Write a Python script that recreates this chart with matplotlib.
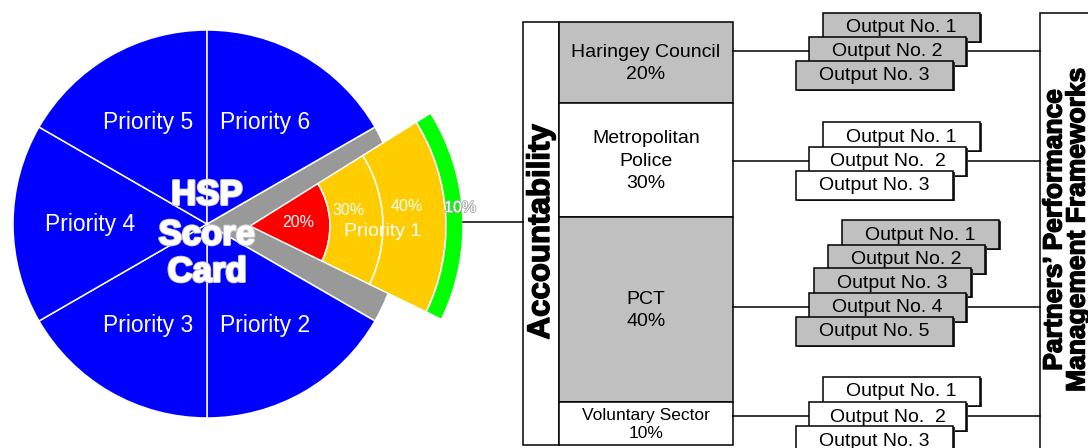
import numpy as np
import matplotlib.pyplot as plt
from matplotlib.patches import Wedge, Rectangle
import matplotlib.patheffects as pe

plt.rcParams['font.family'] = ['Liberation Sans', 'DejaVu Sans']

# data
priorities = ['Priority 1', 'Priority 2', 'Priority 3', 'Priority 4', 'Priority 5', 'Priority 6']
priority_weights = [1, 1, 1, 1, 1, 1]
band_labels = ['20%', '30%', '40%', '10%']
band_colors = ['#ff0000', '#ffcc00', '#ffcc00', '#00ff00']
band_radii = [80, 133, 196, 213]          # ring edges of the pulled-out slice, px
band_label_pos = [(48, 4), (100, 9), (158, 7), (211, 5)]   # (radius, angle) of the % labels

partners = ['Haringey Council\n20%', 'Metropolitan\nPolice\n30%', 'PCT\n40%', 'Voluntary Sector\n10%']
partner_colors = ['#c0c0c0', 'white', '#c0c0c0', 'white']
partner_edges = [22, 103, 217, 402, 445]   # row borders of the accountability column, px
partner_fs = [14, 14, 14, 12.5]

outputs = [
    ['Output No. 1', 'Output No. 2', 'Output No. 3'],
    ['Output No. 1', 'Output No.  2', 'Output No. 3'],
    ['Output No. 1', 'Output No. 2', 'Output No. 3', 'Output No. 4', 'Output No. 5'],
    ['Output No. 1', 'Output No.  2', 'Output No. 3'],
]
stack_left = [[823, 809, 796], [823, 809, 796], [842, 828, 814, 809, 796], [823, 809, 796]]
stack_top = [[13, 37, 61], [122, 147, 171], [220, 245, 268, 293, 317], [377, 402, 426]]

fig = plt.figure(figsize=(10.88, 4.48), dpi=100)
ax = fig.add_axes([0, 0, 1, 1])
ax.set_xlim(0, 1088)
ax.set_ylim(448, 0)
ax.set_aspect('equal')
ax.axis('off')


def wedge(c, r, a1, a2, width=None, **kw):
    # angles are screen angles (ccw), y axis is flipped
    return Wedge(c, r, -a2, -a1, width=width, **kw)


def polar(c, r, a):
    a = np.radians(a)
    return c[0] + r * np.cos(a), c[1] - r * np.sin(a)


# pie, going clockwise from Priority 1
cx, cy, R = 207, 224, 194
span = 360 * np.array(priority_weights) / sum(priority_weights)
start = 30
for i, name in enumerate(priorities):
    a2 = start - span[:i].sum()
    a1 = a2 - span[i]
    col = '#999999' if i == 0 else '#0000ff'
    ax.add_patch(wedge((cx, cy), R, a1, a2, facecolor=col, edgecolor='white', lw=1.1))
    if i > 0:
        tx, ty = polar((cx, cy), 117, (a1 + a2) / 2)
        ax.text(tx, ty, name, color='white', fontsize=16.5, ha='center', va='center')

# pulled-out Priority 1
apex = (250, 226)
b1, b2 = -26, 32
inner = 0
for lab, col, ro, (lr, la) in zip(band_labels, band_colors, band_radii, band_label_pos):
    ax.add_patch(wedge(apex, ro, b1, b2, width=ro - inner, facecolor=col,
                       edgecolor='white', lw=1.1))
    tx, ty = polar(apex, lr, la)
    t = ax.text(tx, ty, lab, color='white', fontsize=11.5, ha='center', va='center')
    if lab == band_labels[-1]:
        t.set_path_effects([pe.withStroke(linewidth=1.2, foreground='#aaaaaa')])
    inner = ro
tx, ty = polar(apex, 133, -2.5)
ax.text(tx, ty, priorities[0], color='white', fontsize=14, ha='center', va='center')

# centre title
for txt, yy in zip(['HSP', 'Score', 'Card'], [195, 235, 272]):
    ax.text(cx, yy, txt, color='white', fontsize=25, fontweight='bold', ha='center', va='center',
            path_effects=[pe.withStroke(linewidth=2.2, foreground='#c8c8c8'),
                          pe.withStroke(linewidth=0.8, foreground='white')])

# link to accountability column
ax.plot([apex[0] + band_radii[-1], 523], [222, 222], color='black', lw=1.1)

# accountability column
ax.add_patch(Rectangle((523, partner_edges[0]), 36, partner_edges[-1] - partner_edges[0],
                       facecolor='white', edgecolor='black', lw=1.1))
ax.text(541, 232, 'Accountability', rotation=90, fontsize=22.5, fontweight='bold',
        ha='center', va='center',
        path_effects=[pe.withStroke(linewidth=1.0, foreground='black')])

for i, lab in enumerate(partners):
    y0, y1 = partner_edges[i], partner_edges[i + 1]
    ax.add_patch(Rectangle((559, y0), 174, y1 - y0, facecolor=partner_colors[i],
                           edgecolor='black', lw=1.1))
    ax.text(646, (y0 + y1) / 2 + 1, lab, fontsize=partner_fs[i], ha='center', va='center',
            linespacing=1.45 if i < 3 else 1.3)

# output stacks
bw, bh = 157, 29
z = 3
for k, labs in enumerate(outputs):
    col = partner_colors[k]
    for j, lab in enumerate(labs):
        x0, y0 = stack_left[k][j], stack_top[k][j]
        ax.add_patch(Rectangle((x0 + 1.5, y0 + 1.5), bw, bh, facecolor='#333333', edgecolor='none', zorder=z))
        ax.add_patch(Rectangle((x0, y0), bw, bh, facecolor=col, edgecolor='black', lw=1.1, zorder=z + 1))
        ax.text(x0 + bw / 2, y0 + bh / 2 + 0.5, lab, fontsize=14, ha='center', va='center', zorder=z + 2)
        z += 3
    j = len(labs) - 2
    ym = stack_top[k][j] + bh / 2
    ax.plot([733, stack_left[k][j]], [ym, ym], color='black', lw=1.1)
    ax.plot([stack_left[k][j] + bw, 1040], [ym, ym], color='black', lw=1.1)

# partners' frameworks column
ax.add_patch(Rectangle((1040, 13), 90, 460, facecolor='white', edgecolor='black', lw=1.1))
ax.text(1066, 230, "Partners’ Performance\nManagement Frameworks", rotation=90, fontsize=19,
        fontweight='bold', ha='center', va='center', linespacing=0.95,
        path_effects=[pe.withStroke(linewidth=1.0, foreground='black')])

fig.savefig('out.png', dpi=100)
